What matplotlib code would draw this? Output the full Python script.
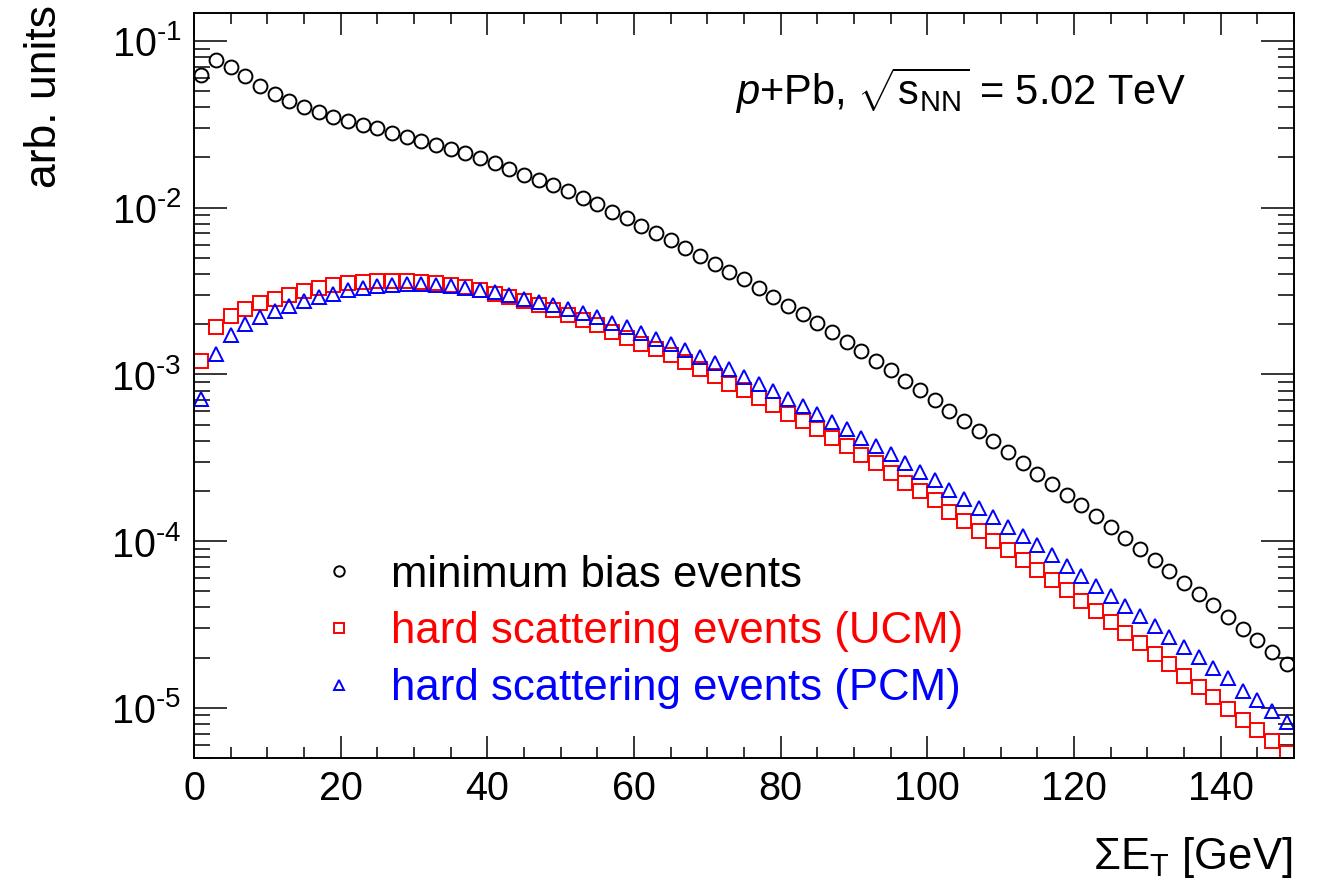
import numpy as np
import matplotlib
matplotlib.use("Agg")
import matplotlib.pyplot as plt
from matplotlib.ticker import LogLocator, MultipleLocator, NullFormatter, FuncFormatter

plt.rcParams['font.family'] = ['Liberation Sans', 'DejaVu Sans']
plt.rcParams['mathtext.fontset'] = 'custom'
plt.rcParams['mathtext.rm'] = 'Liberation Sans'
plt.rcParams['mathtext.it'] = 'Liberation Sans:italic'
plt.rcParams['mathtext.bf'] = 'Liberation Sans:bold'
plt.rcParams['axes.unicode_minus'] = False

# bin centres of sum E_T [GeV]
et = np.arange(1, 150, 2)

min_bias = [6.25e-2, 7.69e-2, 7.01e-2, 6.17e-2, 5.40e-2, 4.79e-2, 4.37e-2, 4.04e-2, 3.72e-2, 3.50e-2,
            3.30e-2, 3.15e-2, 2.99e-2, 2.82e-2, 2.67e-2, 2.51e-2, 2.38e-2, 2.25e-2, 2.12e-2, 1.98e-2,
            1.85e-2, 1.70e-2, 1.57e-2, 1.47e-2, 1.37e-2, 1.25e-2, 1.14e-2, 1.05e-2, 9.46e-3, 8.63e-3,
            7.76e-3, 7.08e-3, 6.40e-3, 5.75e-3, 5.13e-3, 4.59e-3, 4.12e-3, 3.72e-3, 3.28e-3, 2.92e-3,
            2.58e-3, 2.29e-3, 2.02e-3, 1.80e-3, 1.57e-3, 1.38e-3, 1.21e-3, 1.06e-3, 9.12e-4, 8.04e-4,
            7.00e-4, 6.07e-4, 5.26e-4, 4.56e-4, 3.97e-4, 3.43e-4, 2.94e-4, 2.54e-4, 2.19e-4, 1.90e-4,
            1.64e-4, 1.42e-4, 1.22e-4, 1.04e-4, 8.93e-5, 7.67e-5, 6.59e-5, 5.64e-5, 4.80e-5, 4.12e-5,
            3.50e-5, 2.99e-5, 2.56e-5, 2.16e-5, 1.82e-5]

hard_ucm = [1.21e-3, 1.93e-3, 2.24e-3, 2.46e-3, 2.69e-3, 2.85e-3, 3.01e-3, 3.17e-3, 3.30e-3, 3.43e-3,
            3.51e-3, 3.57e-3, 3.61e-3, 3.62e-3, 3.61e-3, 3.57e-3, 3.51e-3, 3.43e-3, 3.32e-3, 3.20e-3,
            3.05e-3, 2.92e-3, 2.76e-3, 2.60e-3, 2.44e-3, 2.28e-3, 2.11e-3, 1.97e-3, 1.80e-3, 1.66e-3,
            1.53e-3, 1.41e-3, 1.30e-3, 1.19e-3, 1.07e-3, 9.75e-4, 8.81e-4, 8.04e-4, 7.26e-4, 6.53e-4,
            5.82e-4, 5.26e-4, 4.67e-4, 4.18e-4, 3.71e-4, 3.30e-4, 2.92e-4, 2.56e-4, 2.24e-4, 1.99e-4,
            1.76e-4, 1.50e-4, 1.32e-4, 1.15e-4, 1.00e-4, 8.81e-5, 7.67e-5, 6.68e-5, 5.82e-5, 5.07e-5,
            4.38e-5, 3.80e-5, 3.27e-5, 2.82e-5, 2.44e-5, 2.11e-5, 1.82e-5, 1.56e-5, 1.34e-5, 1.16e-5,
            9.89e-6, 8.49e-6, 7.31e-6, 6.28e-6, 5.35e-6]

hard_pcm = [7.16e-4, 1.33e-3, 1.72e-3, 2.00e-3, 2.21e-3, 2.40e-3, 2.58e-3, 2.76e-3, 2.92e-3, 3.05e-3,
            3.20e-3, 3.30e-3, 3.38e-3, 3.44e-3, 3.48e-3, 3.48e-3, 3.44e-3, 3.40e-3, 3.30e-3, 3.20e-3,
            3.10e-3, 2.99e-3, 2.85e-3, 2.72e-3, 2.62e-3, 2.45e-3, 2.32e-3, 2.20e-3, 2.04e-3, 1.93e-3,
            1.77e-3, 1.64e-3, 1.52e-3, 1.40e-3, 1.27e-3, 1.17e-3, 1.07e-3, 9.66e-4, 8.81e-4, 7.96e-4,
            7.16e-4, 6.44e-4, 5.77e-4, 5.19e-4, 4.67e-4, 4.18e-4, 3.71e-4, 3.32e-4, 2.93e-4, 2.60e-4,
            2.31e-4, 2.03e-4, 1.78e-4, 1.58e-4, 1.40e-4, 1.22e-4, 1.07e-4, 9.44e-5, 8.22e-5, 7.10e-5,
            6.18e-5, 5.38e-5, 4.67e-5, 4.06e-5, 3.54e-5, 3.08e-5, 2.65e-5, 2.31e-5, 2.01e-5, 1.74e-5,
            1.50e-5, 1.27e-5, 1.11e-5, 9.55e-6, 8.20e-6]

labels = ["minimum bias events", "hard scattering events (UCM)", "hard scattering events (PCM)"]


def pow10(v, pos):
    e = int(round(np.log10(v)))
    return r'10$^{\text{-}%d}$' % -e if e < 0 else r'10$^{%d}$' % e


fig = plt.figure(figsize=(13.2, 8.85), dpi=100)
ax = fig.add_axes([194/1320, 1-758/885, 1100/1320, 745/885])

mk = dict(ls='none', ms=10, mew=1.4, mfc='none')
ax.plot(et, min_bias, marker='o', mec='black', label=labels[0], **mk)
ax.plot(et, hard_ucm, marker='s', mec='red', label=labels[1], **mk)
ax.plot(et, hard_pcm, marker='^', mec='blue', label=labels[2], **mk)

ax.set_yscale('log')
ax.set_xlim(0, 150)
ax.set_ylim(5e-6, 0.147)

ax.xaxis.set_major_locator(MultipleLocator(20))
ax.xaxis.set_minor_locator(MultipleLocator(5))
ax.yaxis.set_major_locator(LogLocator(base=10))
ax.yaxis.set_minor_locator(LogLocator(base=10, subs=np.arange(2, 10)))
ax.yaxis.set_major_formatter(FuncFormatter(pow10))
ax.yaxis.set_minor_formatter(NullFormatter())

for s in ax.spines.values():
    s.set_linewidth(1.4)
ax.tick_params(which='both', direction='in', top=True, right=True, labelsize=28.5, width=1.1)
ax.tick_params(axis='x', which='major', length=16, pad=9)
ax.tick_params(axis='x', which='minor', length=8)
ax.tick_params(axis='y', which='major', length=24, pad=9)
ax.tick_params(axis='y', which='minor', length=11.5)

leg = ax.legend(loc='center left', bbox_to_anchor=(306/1320, 1-632/885), bbox_transform=fig.transFigure,
                frameon=False, fontsize=31.5, handlelength=1.5, handletextpad=0.45, borderpad=0,
                borderaxespad=0, labelspacing=0.36, numpoints=1, markerscale=0.75,
                labelcolor='markeredgecolor')

fig.text(735/1320, 1-105/885, r'$p$+Pb, $\sqrt{\mathrm{s}_{\mathrm{NN}}}$ = 5.02 TeV', fontsize=30, va='baseline')
fig.text(45/1320, 1-5/885, 'arb. units', rotation=90, fontsize=32, ha='center', va='top')
fig.text(1293/1320, 1-857/885, r'$\Sigma$E$_{\mathrm{T}}$ [GeV]', fontsize=31.5, ha='right', va='center')

fig.savefig('out.png', dpi=100)
